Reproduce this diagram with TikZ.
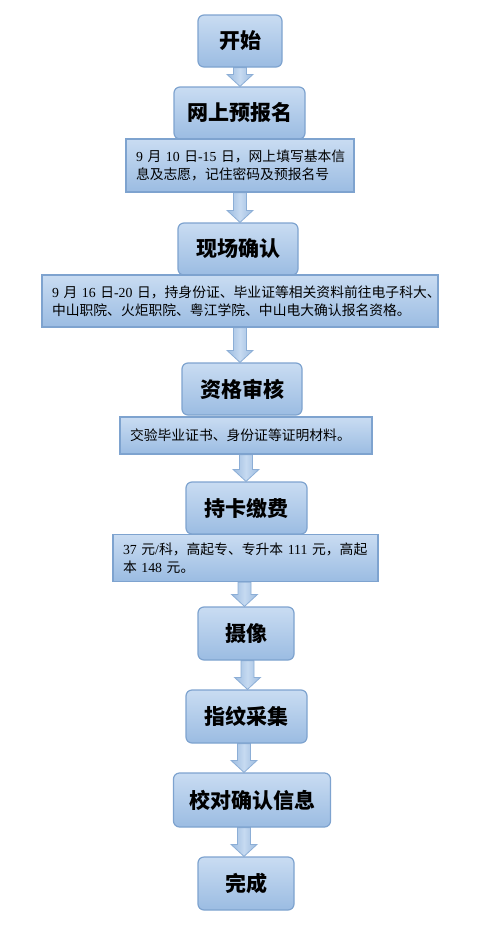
\documentclass[tikz,border=0pt]{standalone}
\usepackage{fontspec}
\setmainfont{Noto Sans CJK SC}
\newfontfamily\tnr{Liberation Serif}
\usepackage{tikz}
\usetikzlibrary{calc,backgrounds}
\definecolor{BoxTop}{HTML}{C9DCF2}
\definecolor{BoxBot}{HTML}{9BBCE2}
\definecolor{BoxLine}{HTML}{7EA3CF}
\definecolor{ArrMid}{HTML}{C6DAF1}
\definecolor{ArrSide}{HTML}{9CBBDF}
\definecolor{ArrLine}{HTML}{8CAED6}
\newcommand{\tn}[1]{{\tnr #1}}
% block arrow from the bottom of #2 down to the top of #3, shifted by #1
\newcommand{\fatarrow}[3][0]{%
  \coordinate (fa-top) at ($(#2.south)+(#1,0)$);
  \coordinate (fa-tip) at (fa-top |- #3.north);
  \begin{pgfonlayer}{background}
  \path[arrowbody] ($(fa-top)+(-6.5,0)$) -- ($(fa-tip)+(-6.5,-12)$)
    -- ($(fa-tip)+(-13,-12)$) -- (fa-tip) -- ($(fa-tip)+(13,-12)$)
    -- ($(fa-tip)+(6.5,-12)$) -- ($(fa-top)+(6.5,0)$) -- cycle;
  \end{pgfonlayer}}

\begin{document}
\begin{tikzpicture}[x=1pt,y=-1pt]
  \tikzstyle{stepbox}=[draw=BoxLine, line width=1.2pt, rounded corners=6pt,
               top color=BoxTop, bottom color=BoxBot, inner sep=0pt,
               minimum height=52pt, font=\fontsize{21}{25}\selectfont\bfseries]
  \tikzstyle{notebox}=[draw=BoxLine, line width=1.2pt, top color=BoxTop,
               bottom color=BoxBot, inner xsep=10pt, inner ysep=0pt, align=left,
               font=\fontsize{13.8}{18}\selectfont]
  \tikzstyle{arrowbody}=[draw=ArrLine, line width=0.8pt, left color=ArrSide,
               right color=ArrSide, middle color=ArrMid]
  \useasboundingbox (0,0) rectangle (489,926);
  % main steps
  \node[stepbox, minimum width=84pt] (start) at (240,41) {开始};
  \node[stepbox, minimum width=131pt] (reg) at (239.5,113) {网上预报名};
  \node[notebox, minimum width=228pt, minimum height=53pt, text width=208pt] (note1) at (240,165.5)
    {\mbox{\tn{9} 月 \tn{10} 日\tn{-15} 日，网上填写基本信}\\\mbox{息及志愿，记住密码及预报名号}};
  \node[stepbox, minimum width=120pt] (conf) at (238,249) {现场确认};
  \node[notebox, minimum width=396pt, minimum height=52pt, text width=376pt] (note2) at (240,301)
    {\mbox{\tn{9} 月 \tn{16} 日\tn{-20} 日，持身份证、毕业证等相关资料前往电子科大、}\\\mbox{中山职院、火炬职院、粤江学院、中山电大确认报名资格。}};
  \node[stepbox, minimum width=120pt] (audit) at (242,389) {资格审核};
  \node[notebox, minimum width=252pt, minimum height=37pt, text width=232pt] (note3) at (246,435.5)
    {\mbox{交验毕业证书、身份证等证明材料。}};
  \node[stepbox, minimum width=121pt] (pay) at (246.5,508) {持卡缴费};
  \node[notebox, minimum width=265pt, minimum height=47pt, text width=245pt] (note4) at (245.5,558)
    {\mbox{\tn{37} 元\tn{/}科，高起专、专升本 \tn{111} 元，高起}\\\mbox{本 \tn{148} 元。}};
  \node[stepbox, minimum width=96pt, minimum height=53pt] (photo) at (246,633.5) {摄像};
  \node[stepbox, minimum width=121pt, minimum height=53pt] (finger) at (246.5,716.5) {指纹采集};
  \node[stepbox, minimum width=157pt, minimum height=54pt] (check) at (252,800) {校对确认信息};
  \node[stepbox, minimum width=96pt, minimum height=53pt] (done) at (246,883.5) {完成};
  % arrows
  \fatarrow{start}{reg}
  \fatarrow{note1}{conf}
  \fatarrow{note2}{audit}
  \fatarrow{note3}{pay}
  \fatarrow[-1]{note4}{photo}
  \fatarrow[1.5]{photo}{finger}
  \fatarrow[-2.5]{finger}{check}
  \fatarrow[-8]{check}{done}
\end{tikzpicture}
\end{document}
